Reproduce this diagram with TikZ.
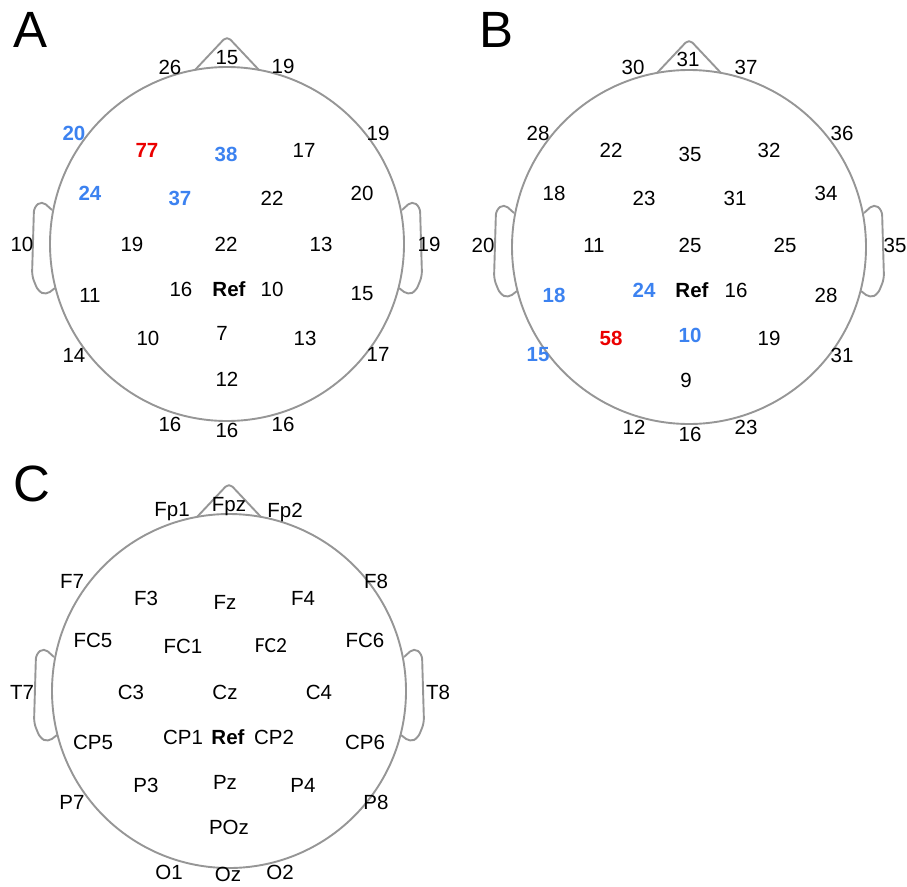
\documentclass[tikz,border=0pt]{standalone}
\usepackage{fontspec}
\setmainfont{Liberation Sans}
\newfontfamily\calib{Carlito}
\definecolor{hgray}{RGB}{150,150,150}
\definecolor{eblue}{RGB}{60,130,240}
\definecolor{ered}{RGB}{235,0,0}
\tikzset{
  outline/.style={draw=hgray, line width=1.9pt, line join=round},
  lbl/.style={font=\fontsize{20.5}{20.5}\selectfont, inner sep=0pt, anchor=center},
  nb/.style={lbl, text=black},
  nbl/.style={lbl, text=eblue, font=\fontsize{20.5}{20.5}\selectfont\bfseries},
  nr/.style={lbl, text=ered, font=\fontsize{20.5}{20.5}\selectfont\bfseries},
  nref/.style={lbl, text=black, font=\fontsize{20.5}{20.5}\selectfont\bfseries},
  panel/.style={inner sep=0pt, font=\fontsize{51}{51}\selectfont, anchor=center},
}
\newcommand{\headdraw}[1]{%
  \begin{scope}[shift={#1}]
    \draw[outline, rounded corners=5pt] (-32,-174) -- (0,-208) -- (32,-174);
    \draw[outline, rounded corners=5pt] (-175,-34) -- (-185,-43) -- (-193,-37) -- (-195,32) -- (-189,47) -- (-181,51) -- (-172,44);
    \draw[outline, rounded corners=5pt] (175,-34) -- (185,-43) -- (193,-37) -- (195,32) -- (189,47) -- (181,51) -- (172,44);
    \draw[outline] (0,0) circle[radius=177];
  \end{scope}}
\begin{document}
\begin{tikzpicture}[x=1pt,y=-1pt]
\useasboundingbox (0,0) rectangle (907,886);
\headdraw{(227,244)}
\headdraw{(689,247)}
\headdraw{(229,691)}
\node[panel] (pA) at (31,30) {A};
\node[panel] (pB) at (497,30) {B};
\node[panel] (pC) at (32,484) {C};
% Panel A
\foreach \n/\x/\y/\s/\t in {
 a1/170/67/nb/26, a2/227/58/nb/15, a3/283/66/nb/19,
 a4/74/133/nbl/20, a5/147/150/nr/77, a6/226/154/nbl/38, a7/304/150/nb/17, a8/378/133/nb/19,
 a9/90/193/nbl/24, a10/180/198/nbl/37, a11/272/198/nb/22, a12/362/193/nb/20,
 a13/22/244/nb/10, a14/132/244/nb/19, a15/226/244/nb/22, a16/321/244/nb/13, a17/429/244/nb/19,
 a18/90/295/nb/11, a19/181/289/nb/16, a20/229/289/nref/Ref, a21/272/289/nb/10, a22/362/294/nb/15,
 a23/74/355/nb/14, a24/148/338/nb/10, a25/222/333/nb/7, a26/305/338/nb/13, a27/378/354/nb/17,
 a28/227/379/nb/12, a29/170/424/nb/16, a30/227/430/nb/16, a31/283/424/nb/16}
 {\node[\s] (\n) at (\x,\y) {\t};}
% Panel B
\foreach \n/\x/\y/\s/\t in {
 b1/633/67/nb/30, b2/688/59/nb/31, b3/746/67/nb/37,
 b4/538/133/nb/28, b5/611/150/nb/22, b6/690/154/nb/35, b7/769/150/nb/32, b8/842/133/nb/36,
 b9/554/193/nb/18, b10/644/198/nb/23, b11/735/198/nb/31, b12/826/193/nb/34,
 b13/483/245/nb/20, b14/594/245/nb/11, b15/690/245/nb/25, b16/785/245/nb/25, b17/895/245/nb/35,
 b18/554/295/nbl/18, b19/644/290/nbl/24, b20/692/290/nref/Ref, b21/736/290/nb/16, b22/826/295/nb/28,
 b23/538/355/nbl/15, b24/611/338/nr/58, b25/690/335/nbl/10, b26/769/338/nb/19, b27/842/355/nb/31,
 b28/686/380/nb/9, b29/634/427/nb/12, b30/690/434/nb/16, b31/746/427/nb/23}
 {\node[\s] (\n) at (\x,\y) {\t};}
% Panel C
\foreach \n/\x/\y/\t in {
 Fp1/172/512/Fp1, Fpz/229/507/Fpz, Fp2/285/512/Fp2,
 F7/72/581/F7, F3/146/598/F3, Fz/225/602/Fz, F4/303/598/F4, F8/376/581/F8,
 FC5/93/640/FC5, FC1/183/646/FC1, FC6/365/640/FC6,
 T7/22/692/T7, C3/131/692/C3, Cz/225/692/Cz, C4/319/692/C4, T8/438/692/T8,
 CP5/93/742/CP5, CP1/183/737/CP1, CP2/274/737/CP2, CP6/365/742/CP6,
 P7/72/802/P7, P3/146/785/P3, Pz/225/782/Pz, P4/303/785/P4, P8/376/802/P8,
 POz/229/827/POz, O1/169/872/O1, Oz/228/874/Oz, O2/280/872/O2}
 {\node[nb] (\n) at (\x,\y) {\t};}
\node[lbl, font=\fontsize{21.5}{21.5}\selectfont\calib] (FC2) at (271,646) {FC2};
\node[nref] (cRef) at (228,737) {Ref};
\end{tikzpicture}
\end{document}
